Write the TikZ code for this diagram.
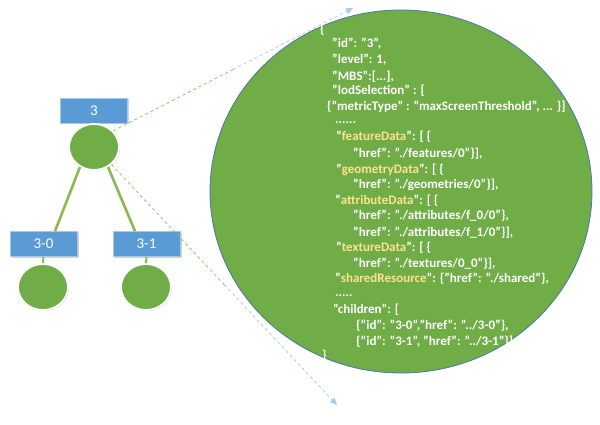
\documentclass[tikz,border=0pt]{standalone}
\usepackage{fontspec}
\setmainfont{Carlito}[BoldFont={Carlito Bold},UprightFont={Carlito}]
\usetikzlibrary{shapes.geometric,shadows,arrows.meta,calc}
\definecolor{nodegreen}{HTML}{70AD47}
\definecolor{boxblue}{HTML}{5B9BD5}
\definecolor{edgegreen}{HTML}{8CB852}
\definecolor{rimblue}{HTML}{4A78A8}
\definecolor{keyyellow}{HTML}{FFE38C}
\definecolor{dashgreen}{HTML}{8CC46E}
\definecolor{dashblue}{HTML}{A9CBEA}
\newcommand\ky[1]{\textcolor{keyyellow}{#1}}
\begin{document}
\begin{tikzpicture}[x=1pt,y=-1pt,
  lbl/.style={rectangle, fill=boxblue, draw=boxblue!55!white, line width=0.6pt,
    minimum width=67pt, minimum height=25pt, inner sep=0pt, text=white,
    font=\fontsize{15}{15}\selectfont,
    drop shadow={shadow xshift=1.5pt, shadow yshift=-1.5pt, opacity=0.35}},
  ball/.style={ellipse, fill=nodegreen, draw=white, line width=1.8pt,
    minimum width=50pt, minimum height=46pt, inner sep=0pt,
    drop shadow={shadow xshift=1pt, shadow yshift=-1pt, opacity=0.3}},
  edge/.style={edgegreen, line width=2.6pt},
  dashpartA/.style={dashgreen, dashed, line width=0.8pt},
  dashpartB/.style={dashblue, dashed, line width=0.8pt,
    -{Triangle[width=6pt,length=7pt]}},
  code/.style={anchor=base west, inner sep=0pt, text=white,
    font=\fontsize{13}{15}\selectfont\bfseries}
]
\useasboundingbox[fill=white] (0,0) rectangle (600,425);

% big ellipse
\node[ellipse, fill=nodegreen, draw=rimblue, line width=0.8pt,
  minimum width=382pt, minimum height=363pt, inner sep=0pt] (big) at (401,191.5) {};

% tree
\node[lbl] (b3) at (94,110.5) {3};
\node[ball] (c3) at (94,147) {};
\node[lbl] (b30) at (43.5,244) {3-0};
\node[lbl] (b31) at (146.5,244) {3-1};
\node[ball] (c30) at (43,287) {};
\node[ball] (c31) at (146,287) {};

\draw[edge] (c3.-125) -- ([xshift=11.5pt]b30.north);
\draw[edge] (c3.-55) -- ([xshift=-11.5pt]b31.north);
\draw[edge, line width=2pt] (b30.south) -- (c30.north);
\draw[edge, line width=2pt] (b31.south) -- (c31.north);

% dashed arrows
\coordinate (tipU) at (353,8);
\coordinate (tipL) at (337,405);
\draw[dashpartA] (c3.40) -- ($(c3.40)!0.5!(tipU)$) coordinate (mU);
\draw[dashpartB] (mU) -- (tipU);
\draw[dashpartA] (c3.-45) -- ($(c3.-45)!0.5!(tipL)$) coordinate (mL);
\draw[dashpartB] (mL) -- (tipL);

% code text
\node[code] (t1) at (320,34) {\{};
\node[code] (t2) at (332,47.5) {"id": "3",};
\node[code] (t3) at (332,64) {"level": 1,};
\node[code] (t4) at (332,80.5) {"MBS":[...],};
\node[code] (t5) at (332,95) {"lodSelection" : [};
\node[code] (t6) at (327,111) {\{"metricType" : "maxScreenThreshold", ... \}]};
\node[code] (t7) at (335,124) {......};
\node[code] (t8) at (336,141) {"\ky{featureData}": [ \{};
\node[code] (t9) at (353,158) {"href": "./features/0"\}],};
\node[code] (t10) at (336,173.5) {"\ky{geometryData}": [ \{};
\node[code] (t11) at (353,188.5) {"href": "./geometries/0"\}],};
\node[code] (t12) at (335,204.5) {"\ky{attributeData}": [ \{};
\node[code] (t13) at (353,219.5) {"href": "./attributes/f\_0/0"\},};
\node[code] (t14) at (353,236) {"href": "./attributes/f\_1/0"\}],};
\node[code] (t15) at (336,251.5) {"\ky{textureData}": [ \{};
\node[code] (t16) at (353,267) {"href": "./textures/0\_0"\}],};
\node[code] (t17) at (335,282.5) {"\ky{sharedResource}": \{"href": "./shared"\},};
\node[code] (t18) at (335,296) {.....};
\node[code] (t19) at (333,313.5) {"children": [};
\node[code] (t20) at (356,329.5) {\{"id": "3-0","href": "../3-0"\},};
\node[code] (t21) at (356,345) {\{"id": "3-1", "href": "../3-1"\}]};
\node[code] (t22) at (322,359) {\}};
\end{tikzpicture}
\end{document}
